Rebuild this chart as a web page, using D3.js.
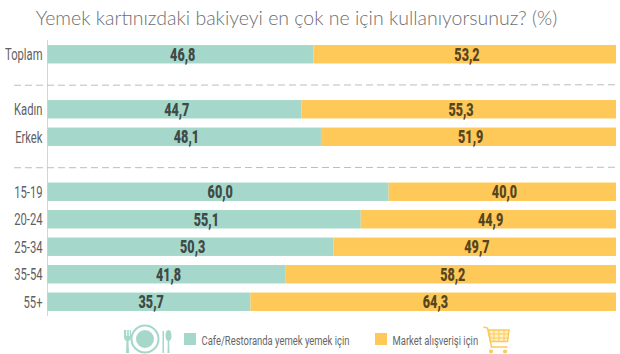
<!DOCTYPE html>
<html><head><meta charset="utf-8">
<script src="https://cdn.jsdelivr.net/npm/d3@7"></script>
<style>html,body{margin:0;padding:0;background:#fff}svg{display:block}</style></head>
<body><svg id="c" width="620" height="354"></svg>
<script>
const categories=["Toplam","Kadın","Erkek","15-19","20-24","25-34","35-54","55+"];
const cafe=[46.8,44.7,48.1,60.0,55.1,50.3,41.8,35.7];
const market=[53.2,55.3,51.9,40.0,44.9,49.7,58.2,64.3];
const rowSlots=["Toplam","sep1","Kadın","Erkek","sep2","15-19","20-24","25-34","35-54","55+"];
const separators=["sep1","sep2"];
const seriesNames=["Cafe/Restoranda yemek yemek için","Market alışverişi için"];
const title="Yemek kartınızdaki bakiyeyi en çok ne için kullanıyorsunuz? (%)";
const colA="#a5d8ca",colB="#fec958",face="Roboto, sans-serif";

const svg=d3.select("#c");
const x=d3.scaleLinear().domain([0,100]).range([47.5,616]);
const y=d3.scaleBand().domain(rowSlots).range([40.5,315.5]).paddingInner(0.33).paddingOuter(0.165);
const fmt=v=>v.toFixed(1).replace(".",",");
const squeeze=(px,py,sx)=>`translate(${px},${py}) scale(${sx},1)`;
const labelNudge=2.2;

svg.append("text").attr("x",296.5).attr("y",25).attr("text-anchor","middle")
 .attr("font-family","Lato").attr("font-weight",300).attr("font-size",19.5)
 .attr("fill","#6e6e70").text(title);

svg.append("line").attr("x1",47.5).attr("x2",47.5).attr("y1",40).attr("y2",316).attr("stroke","#d5d5d5").attr("stroke-width",1);

svg.selectAll("line.sep").data(separators).join("line").attr("class","sep")
 .attr("x1",14).attr("x2",616)
 .attr("y1",d=>y(d)+y.bandwidth()/2+3.5).attr("y2",d=>y(d)+y.bandwidth()/2+3)
 .attr("stroke","#bdbdbd").attr("stroke-width",1).attr("stroke-dasharray","7 4");

const rows=svg.selectAll("g.row").data(categories).join("g").attr("class","row");
rows.append("rect").attr("x",x(0)).attr("y",d=>y(d)).attr("height",y.bandwidth())
 .attr("width",(d,i)=>x(cafe[i])-x(0)).attr("fill",colA);
rows.append("rect").attr("x",(d,i)=>x(cafe[i])).attr("y",d=>y(d)).attr("height",y.bandwidth())
 .attr("width",(d,i)=>x(cafe[i]+market[i])-x(cafe[i])).attr("fill",colB);
rows.append("text").attr("transform",d=>squeeze(42.5,y(d)+y.bandwidth()/2+6,0.66)).attr("text-anchor","end")
 .attr("font-family",face).attr("font-size",17).attr("fill","#5f5f5f").text(d=>d);
rows.append("text").attr("transform",(d,i)=>squeeze(x(cafe[i]/2)+labelNudge,y(d)+y.bandwidth()/2+6.5,0.7)).attr("text-anchor","middle")
 .attr("font-family",face).attr("font-weight",900).attr("font-size",18).attr("fill","#3f4a46").text((d,i)=>fmt(cafe[i]));
rows.append("text").attr("transform",(d,i)=>squeeze(x(cafe[i]+market[i]/2)+labelNudge,y(d)+y.bandwidth()/2+6.5,0.7)).attr("text-anchor","middle")
 .attr("font-family",face).attr("font-weight",900).attr("font-size",18).attr("fill","#56451f").text((d,i)=>fmt(market[i]));

// legend
const lg=[{x:184,c:colA,t:seriesNames[0],tx:201.5},{x:375,c:colB,t:seriesNames[1],tx:392.5}];
svg.selectAll("rect.lg").data(lg).join("rect").attr("class","lg").attr("x",d=>d.x).attr("y",333).attr("width",12).attr("height",12).attr("fill",d=>d.c);
svg.selectAll("text.lg").data(lg).join("text").attr("class","lg").attr("transform",d=>squeeze(d.tx,344.5,0.7))
 .attr("font-family",face).attr("font-size",13.5).attr("fill","#666").text(d=>d.t);

// plate icon
const ic=svg.append("g");
ic.append("circle").attr("cx",145).attr("cy",339).attr("r",13.5).attr("fill","none").attr("stroke",colA).attr("stroke-width",2);
ic.append("circle").attr("cx",145).attr("cy",339).attr("r",9).attr("fill",colA);
ic.append("path").attr("d","M124 330v7q0 3 2.500 4l-.5 12h3l-.5-12q2.500-1 2.500-4v-7h-1.200v6h-1v-6h-1.600v6h-1v-6z").attr("fill",colA);
ic.append("path").attr("d","M162.500 331h1.500v22h-1.500z").attr("fill",colA);
ic.append("path").attr("d","M167.500 353l.3-12q-2.300-1-2.300-5 0-6 3-6t3 6q0 4-2.300 5l.3 12z").attr("fill",colA);
// cart icon
const ct=svg.append("g").attr("fill","none").attr("stroke",colB).attr("stroke-width",1.5);
ct.append("path").attr("d","M483.500 327l4 1 4 19h16");
ct.append("path").attr("d","M488.500 330h20.500l-1.500 11.500h-17z").attr("fill","#fff0c8");
ct.append("path").attr("d","M489 334h20M489.500 338h19M494 330v11.500M499 330v11.500M504 330v11.500").attr("stroke-width",1);
ct.append("circle").attr("cx",491).attr("cy",351.500).attr("r",1.300).attr("fill",colB);
ct.append("circle").attr("cx",505).attr("cy",351.500).attr("r",1.300).attr("fill",colB);
</script></body></html>
